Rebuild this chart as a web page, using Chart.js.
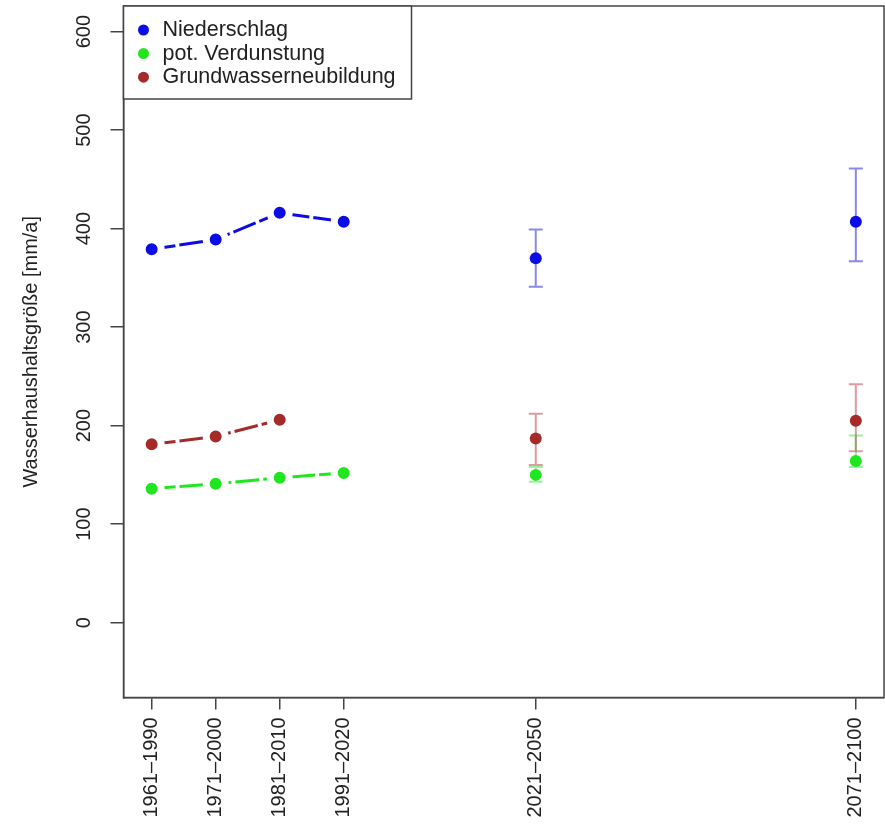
<!DOCTYPE html>
<html><head><meta charset="utf-8">
<script src="https://cdn.jsdelivr.net/npm/chart.js@4.4.0/dist/chart.umd.min.js"></script>
<style>html,body{margin:0;padding:0;background:#fff;}canvas{display:block;}</style>
</head><body>
<canvas id="c" width="885" height="825"></canvas>
<script>
// ---- data ----
const periods = ['1961–1990','1971–2000','1981–2010','1991–2020','2021–2050','2071–2100'];
const periodMid = [1975.5, 1985.5, 1995.5, 2005.5, 2035.5, 2085.5];
const yTicks = [0, 100, 200, 300, 400, 500, 600];
const seriesNames = ['Niederschlag', 'pot. Verdunstung', 'Grundwasserneubildung'];
const niederschlag     = [379, 389, 416, 407, 370, 407];
const niederschlagLow  = [null, null, null, null, 341, 367];
const niederschlagHigh = [null, null, null, null, 399, 461];
const verdunstung      = [136, 141, 147, 152, 150, 164];
const verdunstungLow   = [null, null, null, null, 143, 158];
const verdunstungHigh  = [null, null, null, null, 158, 190];
const grundwasser      = [181, 189, 206, null, 187, 205];
const grundwasserLow   = [null, null, null, null, 160, 174];
const grundwasserHigh  = [null, null, null, null, 212, 242];

const FONT = "'Liberation Sans', Arial, Helvetica, sans-serif";
const colBlue = '#0c0ce4', colGreen = '#1fe61f', colRed = '#a52a2a';
const errBlue = 'rgba(40,40,220,0.55)', errGreen = 'rgba(30,230,30,0.45)', errRed = 'rgba(180,60,70,0.5)';

function hist(vals){
  const out = [];
  for (let i = 0; i < 4; i++) if (vals[i] != null) out.push({x: periodMid[i], y: vals[i]});
  return out;
}
function proj(vals, lo, hi){
  const out = [];
  for (let i = 4; i < vals.length; i++) if (vals[i] != null) out.push({x: periodMid[i], y: vals[i], lo: lo[i], hi: hi[i]});
  return out;
}
function histDs(label, vals, col){
  return {label, data: hist(vals), showLine: true, borderColor: col, backgroundColor: col,
    borderWidth: 3, borderDash: [24, 4], pointRadius: 9.5, pointBorderWidth: 7,
    pointBorderColor: '#ffffff', pointBackgroundColor: col, legend: true};
}
function projDs(label, vals, lo, hi, col, ecol){
  return {label, data: proj(vals, lo, hi), showLine: false, borderColor: col, backgroundColor: col,
    pointRadius: 6, pointBorderWidth: 0, pointBackgroundColor: col, errorColor: ecol};
}

const errorBars = {
  id: 'errorBars',
  beforeDatasetsDraw(chart){
    const ctx = chart.ctx, xs = chart.scales.x, ys = chart.scales.y;
    chart.data.datasets.forEach(ds => {
      if (!ds.errorColor) return;
      ctx.save();
      ctx.strokeStyle = ds.errorColor; ctx.lineWidth = 2;
      ds.data.forEach(p => {
        if (p.lo == null || p.hi == null) return;
        const px = xs.getPixelForValue(p.x), y1 = ys.getPixelForValue(p.lo), y2 = ys.getPixelForValue(p.hi);
        ctx.beginPath();
        ctx.moveTo(px, y1); ctx.lineTo(px, y2);
        ctx.moveTo(px - 7, y1); ctx.lineTo(px + 7, y1);
        ctx.moveTo(px - 7, y2); ctx.lineTo(px + 7, y2);
        ctx.stroke();
      });
      ctx.restore();
    });
  }
};

const boxAndLegend = {
  id: 'boxAndLegend',
  afterDraw(chart){
    const ctx = chart.ctx, a = chart.chartArea;
    ctx.save();
    ctx.strokeStyle = '#444'; ctx.lineWidth = 1.5;
    ctx.strokeRect(a.left, a.top, a.right - a.left, a.bottom - a.top);
    // legend
    const items = chart.data.datasets.filter(d => d.legend);
    const lx = a.left, ly = a.top, lw = 288, lh = 93;
    ctx.fillStyle = '#fff';
    ctx.fillRect(lx, ly, lw, lh);
    ctx.strokeRect(lx, ly, lw, lh);
    ctx.font = '21.5px ' + FONT;
    ctx.textBaseline = 'middle';
    items.forEach((d, i) => {
      const cy = ly + 24 + i * 23.6;
      ctx.fillStyle = d.backgroundColor;
      ctx.beginPath(); ctx.arc(lx + 20, cy, 5.5, 0, Math.PI * 2); ctx.fill();
      ctx.fillStyle = '#222';
      ctx.fillText(d.label, lx + 39, cy);
    });
    ctx.restore();
  }
};

function noPad(s){ s.paddingTop = 0; s.paddingBottom = 0; s.paddingLeft = 0; s.paddingRight = 0; }

new Chart(document.getElementById('c'), {
  type: 'scatter',
  data: {
    datasets: [
      histDs(seriesNames[0], niederschlag, colBlue),
      histDs(seriesNames[1], verdunstung, colGreen),
      histDs(seriesNames[2], grundwasser, colRed),
      projDs(seriesNames[0] + ' (Projektion)', niederschlag, niederschlagLow, niederschlagHigh, colBlue, errBlue),
      projDs(seriesNames[1] + ' (Projektion)', verdunstung, verdunstungLow, verdunstungHigh, colGreen, errGreen),
      projDs(seriesNames[2] + ' (Projektion)', grundwasser, grundwasserLow, grundwasserHigh, colRed, errRed)
    ]
  },
  options: {
    responsive: false, devicePixelRatio: 1, animation: false, events: [],
    layout: {autoPadding: false, padding: {left: 0, right: 1, top: 6, bottom: 0}},
    plugins: {legend: {display: false}, tooltip: {enabled: false}},
    scales: {
      x: {
        type: 'linear', min: 1971.1, max: 2089.9,
        afterBuildTicks: s => { s.ticks = periodMid.map(v => ({value: v})); },
        afterFit: s => { s.height = 127.5; noPad(s); },
        ticks: {autoSkip: false, minRotation: 90, maxRotation: 90, padding: 8, color: '#222',
          font: {family: FONT, size: 20}, callback: (v, i) => periods[i]},
        grid: {display: true, drawOnChartArea: false, drawTicks: true, tickLength: 12, color: '#444', lineWidth: 1.5},
        border: {display: true, color: '#444', width: 1.5}
      },
      y: {
        type: 'linear', min: -76, max: 626,
        afterBuildTicks: s => { s.ticks = yTicks.map(v => ({value: v})); },
        afterFit: s => { s.width = 123.5; noPad(s); },
        ticks: {minRotation: 90, maxRotation: 90, crossAlign: 'center', padding: 9, color: '#222',
          font: {family: FONT, size: 20}, callback: (v, i) => String(yTicks[i])},
        grid: {display: true, drawOnChartArea: false, drawTicks: true, tickLength: 13, color: '#444', lineWidth: 1.5},
        border: {display: true, color: '#444', width: 1.5},
        title: {display: true, text: 'Wasserhaushaltsgröße [mm/a]', color: '#222',
          font: {family: FONT, size: 20}, padding: {top: 19, bottom: 0}}
      }
    }
  },
  plugins: [errorBars, boxAndLegend]
});
</script>
</body></html>
